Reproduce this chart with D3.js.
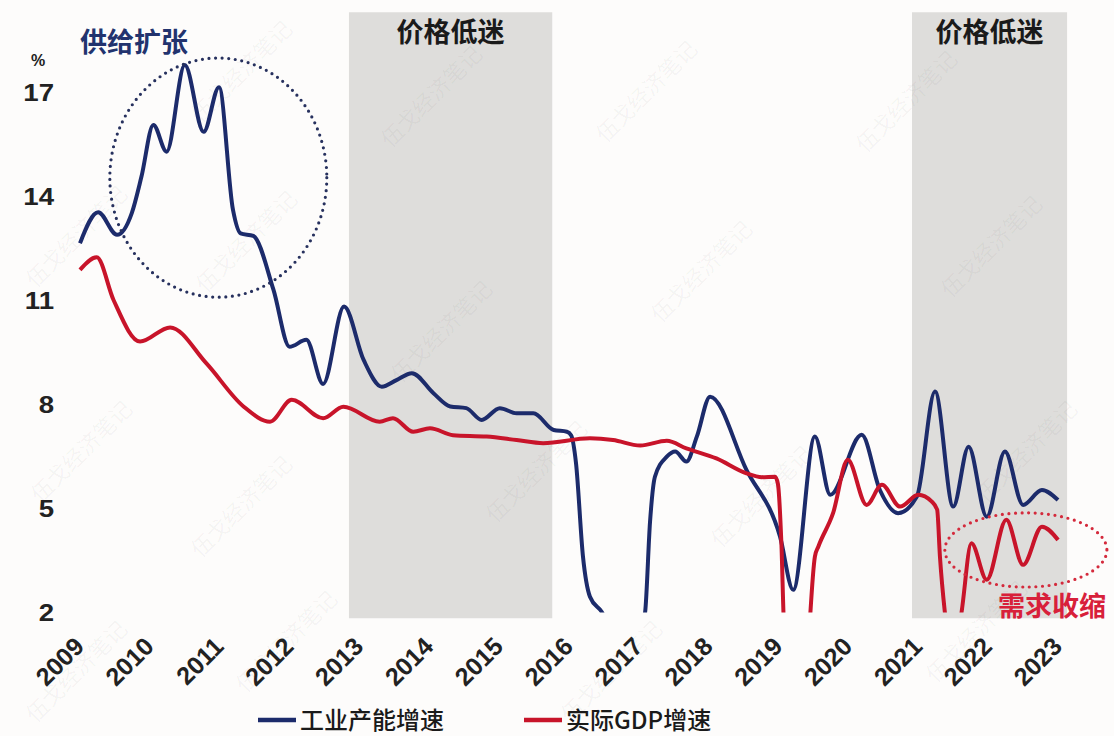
<!DOCTYPE html>
<html>
<head>
<meta charset="utf-8">
<script src="https://cdn.jsdelivr.net/npm/d3@7"></script>
<style>
  html, body { margin: 0; padding: 0; background: #fdfcfb; }
  svg { display: block; }
</style>
</head>
<body>
<svg id="chart" width="1114" height="736"></svg>
<script>
// ---- data ----
const yearTicks = [2009, 2010, 2011, 2012, 2013, 2014, 2015, 2016, 2017, 2018, 2019, 2020, 2021, 2022, 2023];
const valueTicks = [2, 5, 8, 11, 14, 17];

// 工业产能增速 (%), time in decimal years
const capacityT = [2009.00, 2009.26, 2009.53, 2009.74, 2009.88, 2010.05, 2010.24, 2010.50, 2010.77, 2010.99,
  2011.19, 2011.30, 2011.48, 2011.77, 2012.00, 2012.24, 2012.48, 2012.78, 2013.06, 2013.32,
  2013.53, 2013.75, 2014.06, 2014.30, 2014.53, 2014.75, 2015.01, 2015.25, 2015.49, 2015.78,
  2015.97, 2016.03, 2016.10, 2016.20, 2016.30, 2016.47, 2016.75, 2016.95, 2017.09, 2017.16,
  2017.23, 2017.40, 2017.52, 2017.68, 2017.83, 2018.02, 2018.54, 2019.02, 2019.21, 2019.52,
  2019.74, 2020.19, 2020.45, 2020.71, 2020.98, 2021.24, 2021.50, 2021.72, 2021.98, 2022.24,
  2022.50, 2022.77, 2023.00];
const capacityV = [12.64, 13.53, 12.88, 13.50, 14.56, 16.05, 15.28, 17.78, 15.85, 17.14,
  13.60, 12.92, 12.85, 11.29, 9.65, 9.85, 8.58, 10.81, 9.27, 8.50,
  8.69, 8.89, 8.31, 7.93, 7.88, 7.54, 7.88, 7.73, 7.73, 7.25,
  7.20, 7.10, 6.30, 3.60, 2.44, 2.00, 0.80, 0.80, 2.00, 4.60,
  5.90, 6.48, 6.63, 6.34, 7.06, 8.21, 6.10, 4.18, 2.64, 7.06,
  5.38, 7.11, 5.52, 4.85, 5.33, 8.36, 5.04, 6.77, 4.75, 6.63,
  5.09, 5.52, 5.23];

// 实际GDP增速 (%)
const gdpT = [2009.00, 2009.24, 2009.48, 2009.86, 2010.29, 2010.81, 2011.34, 2011.72, 2012.03, 2012.48,
  2012.77, 2013.29, 2013.48, 2013.77, 2014.01, 2014.34, 2014.82, 2015.25, 2015.63, 2016.30,
  2016.63, 2017.02, 2017.40, 2017.68, 2018.11, 2018.54, 2018.76, 2018.95, 2018.99, 2019.04,
  2019.08, 2019.25, 2019.38, 2019.45, 2019.52, 2019.57, 2019.78, 2019.99, 2020.26, 2020.48,
  2020.74, 2021.00, 2021.19, 2021.27, 2021.31, 2021.38, 2021.50, 2021.62, 2021.76, 2021.98,
  2022.26, 2022.50, 2022.77, 2023.00];
const gdpV = [11.87, 12.23, 11.00, 9.80, 10.21, 9.17, 7.93, 7.49, 8.12, 7.59,
  7.92, 7.49, 7.59, 7.20, 7.30, 7.10, 7.06, 6.96, 6.87, 7.01,
  6.96, 6.80, 6.94, 6.72, 6.43, 6.00, 5.89, 5.90, 5.70, 4.00,
  1.50, -1.0, -1.0, 1.80, 3.60, 3.89, 4.85, 6.39, 5.09, 5.67,
  5.04, 5.38, 5.19, 4.95, 3.60, 2.00, 0.50, 2.00, 3.98, 2.93,
  4.66, 3.36, 4.46, 4.08];

// 价格低迷 periods (decimal years)
const bandStart = [2012.85, 2020.91];
const bandEnd = [2015.76, 2023.13];
const bandLabel = "价格低迷";
const seriesNames = ["工业产能增速", "实际GDP增速"];
const seriesColors = ["#1c2b6b", "#c8142a"];

// ---- layout ----
const svg = d3.select("#chart");
const x = d3.scaleLinear().domain([2009, 2023]).range([80, 1058]);
const y = d3.scaleLinear().domain([2, 17]).range([612, 92]);
const digitFont = "'Liberation Sans', Arial, sans-serif";
const cjkFont = "'Noto Sans CJK SC', 'Noto Sans', sans-serif";

svg.append("rect").attr("width", 1114).attr("height", 736).attr("fill", "#fdfcfb");

// shaded periods
const bands = bandStart.map((s, i) => ({ s, e: bandEnd[i] }));
svg.append("g").selectAll("rect").data(bands).join("rect")
  .attr("x", d => x(d.s))
  .attr("width", d => x(d.e) - x(d.s))
  .attr("y", y(19.3))
  .attr("height", y(1.82) - y(19.3))
  .attr("fill", "#dedddb");

svg.append("g").selectAll("text").data(bands).join("text")
  .attr("x", d => (x(d.s) + x(d.e)) / 2)
  .attr("y", 42)
  .attr("text-anchor", "middle")
  .attr("font-family", cjkFont)
  .attr("font-weight", 700)
  .attr("font-size", 27)
  .attr("fill", "#1a1a1a")
  .text(bandLabel);

// faint watermark text
const wmSpots = [[240, 70], [430, 95], [645, 90], [905, 100], [75, 235], [245, 240], [700, 270],
  [990, 245], [440, 330], [80, 450], [240, 505], [535, 470], [760, 495], [1025, 450],
  [285, 640], [75, 670], [610, 670], [975, 630]];
svg.append("g").selectAll("text").data(wmSpots).join("text")
  .attr("transform", d => `translate(${d[0]},${d[1]}) rotate(-45)`)
  .attr("text-anchor", "middle")
  .attr("dominant-baseline", "central")
  .attr("font-family", cjkFont)
  .attr("font-size", 22)
  .attr("fill", "#000")
  .attr("fill-opacity", 0.045)
  .text("伍戈经济笔记");

// y axis
const yAxis = svg.append("g")
  .attr("transform", "translate(54,0)")
  .call(d3.axisLeft(y).tickValues(valueTicks).tickSize(0).tickPadding(0).tickFormat(d3.format("d")));
yAxis.select(".domain").remove();
yAxis.selectAll("text")
  .attr("x", null).attr("dy", null)
  .attr("transform", "scale(1.15,1)")
  .attr("dominant-baseline", "central")
  .attr("font-family", digitFont)
  .attr("font-weight", 700)
  .attr("font-size", 24)
  .attr("fill", "#222");

svg.append("text")
  .attr("x", 38).attr("y", 66)
  .attr("text-anchor", "middle")
  .attr("font-family", digitFont)
  .attr("font-weight", 700)
  .attr("font-size", 16)
  .attr("fill", "#222")
  .text("%");

// x axis
const xAxis = svg.append("g")
  .attr("transform", "translate(0,648)")
  .call(d3.axisBottom(x).tickValues(yearTicks).tickSize(0).tickPadding(0).tickFormat(d3.format("d")));
xAxis.select(".domain").remove();
xAxis.selectAll("text")
  .attr("y", null).attr("dy", null)
  .attr("text-anchor", "end")
  .attr("transform", "translate(5,0) rotate(-45)")
  .attr("font-family", digitFont)
  .attr("font-weight", 700)
  .attr("font-size", 25)
  .attr("fill", "#222");

// series
svg.append("defs").append("clipPath").attr("id", "plotClip")
  .append("rect").attr("x", 0).attr("y", 0).attr("width", 1114).attr("height", y(2) + 0.5);

const line = d3.line()
  .x(d => x(d[0]))
  .y(d => y(d[1]))
  .curve(d3.curveMonotoneX);

const seriesData = [
  capacityT.map((t, i) => [t, capacityV[i]]),
  gdpT.map((t, i) => [t, gdpV[i]])
];

svg.append("g").attr("clip-path", "url(#plotClip)")
  .selectAll("path").data(seriesData).join("path")
  .attr("d", line)
  .attr("fill", "none")
  .attr("stroke", (d, i) => seriesColors[i])
  .attr("stroke-width", 4)
  .attr("stroke-linejoin", "round")
  .attr("stroke-linecap", "butt");

// annotation ellipses
const notes = [
  { cx: 2010.98, cy: 14.53, rx: 1.553, ry: 3.45, color: "#27315e", label: "供给扩张", lx: 80, ly: 52, anchor: "start" },
  { cx: 2022.54, cy: 3.79, rx: 1.16, ry: 1.07, color: "#d42a3c", label: "需求收缩", lx: 998, ly: 616, anchor: "start" }
];
svg.append("g").selectAll("ellipse").data(notes).join("ellipse")
  .attr("cx", d => x(d.cx))
  .attr("cy", d => y(d.cy))
  .attr("rx", d => x(2009 + d.rx) - x(2009))
  .attr("ry", d => y(2) - y(2 + d.ry))
  .attr("fill", "none")
  .attr("stroke", d => d.color)
  .attr("stroke-width", 3.2)
  .attr("stroke-linecap", "round")
  .attr("stroke-dasharray", "0 6.6");

svg.append("g").selectAll("text").data(notes).join("text")
  .attr("x", d => d.lx)
  .attr("y", d => d.ly)
  .attr("text-anchor", d => d.anchor)
  .attr("font-family", cjkFont)
  .attr("font-weight", 700)
  .attr("font-size", 27)
  .attr("fill", (d, i) => i === 0 ? "#22336e" : "#d8203a")
  .text(d => d.label);

// legend
const legend = svg.append("g").selectAll("g").data(seriesNames).join("g")
  .attr("transform", (d, i) => `translate(${i === 0 ? 258 : 524},720)`);
legend.append("line")
  .attr("x1", 0).attr("x2", 38).attr("y1", 0).attr("y2", 0)
  .attr("stroke", (d, i) => seriesColors[i])
  .attr("stroke-width", 4.5);
legend.append("text")
  .attr("x", 42).attr("y", 8.5)
  .attr("font-family", cjkFont)
  .attr("font-weight", 500)
  .attr("font-size", 24)
  .attr("fill", "#1a1a1a")
  .text(d => d);
</script>
</body>
</html>
